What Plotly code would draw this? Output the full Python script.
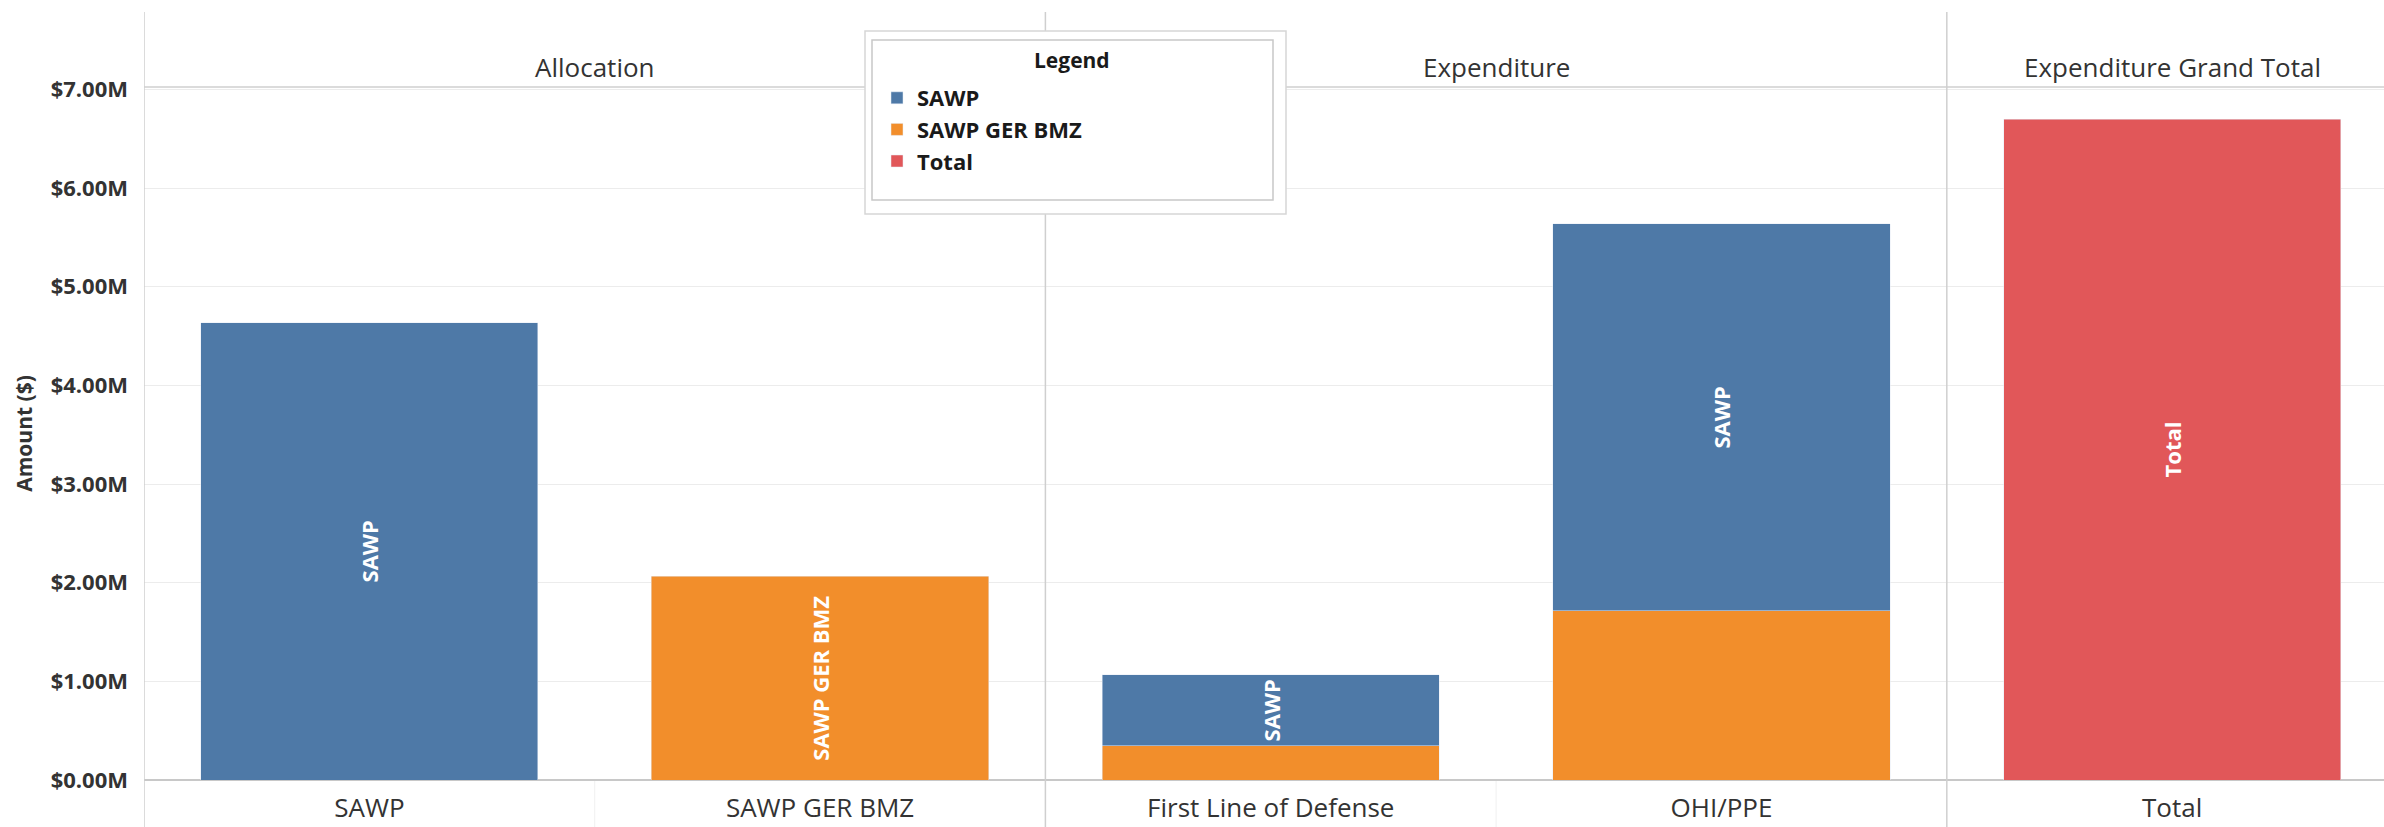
import plotly.graph_objects as go

categories = ["SAWP", "SAWP GER BMZ", "First Line of Defense", "OHI/PPE", "Total"]
sawp_values = [4.637e6, None, 0.716e6, 3.921e6, None]
sawp_labels = ["SAWP", "", "SAWP", "SAWP", ""]
gerbmz_values = [None, 2.064e6, 0.349e6, 1.716e6, None]
gerbmz_labels = ["", "SAWP GER BMZ", "", "", ""]
total_values = [None, None, None, None, 6.70e6]
total_labels = ["", "", "", "", "Total"]
panel_names = ["Allocation", "Expenditure", "Expenditure Grand Total"]
panel_centers = [0.5, 2.5, 4.0]
tick_vals = [0, 1e6, 2e6, 3e6, 4e6, 5e6, 6e6, 7e6]
tick_text = ["$0.00M", "$1.00M", "$2.00M", "$3.00M", "$4.00M", "$5.00M", "$6.00M", "$7.00M"]

BLUE = "#4e79a7"
ORANGE = "#f28e2b"
RED = "#e15759"
FONT = "Open Sans"

W, H = 2384, 827
ML, MR, MT, MB = 144, 0, 87, 47
PH = H - MT - MB

def py(px):
    return (H - MB - px) / PH

def px_x(px):
    return (px - ML) / (W - ML - MR)

bar_text_font = dict(family=FONT, size=22, color="white", weight="bold")

fig = go.Figure()
fig.add_trace(go.Bar(
    x=categories, y=gerbmz_values, name="SAWP GER BMZ", marker_color=ORANGE,
    text=gerbmz_labels, texttemplate="%{text}", textposition="inside",
    insidetextanchor="middle", textangle=-90, insidetextfont=bar_text_font,
    constraintext="none", legendrank=2, legendgroup="g2", hoverinfo="skip",
))
fig.add_trace(go.Bar(
    x=categories, y=sawp_values, name="SAWP", marker_color=BLUE,
    text=sawp_labels, texttemplate="%{text}", textposition="inside",
    insidetextanchor="middle", textangle=-90, insidetextfont=bar_text_font,
    constraintext="none", legendrank=1, legendgroup="g1", hoverinfo="skip",
))
fig.add_trace(go.Bar(
    x=categories, y=total_values, name="Total", marker_color=RED,
    text=total_labels, texttemplate="%{text}", textposition="inside",
    insidetextanchor="middle", textangle=-90, insidetextfont=bar_text_font,
    constraintext="none", legendrank=3, legendgroup="g3", hoverinfo="skip",
))

shapes = []
line_col = "#cfcfcf"
shapes.append(dict(type="line", xref="paper", yref="paper", x0=0, x1=1, y0=1, y1=1,
                   line=dict(color=line_col, width=1.5), layer="above"))
for xv in [-0.5, 1.5, 3.5]:
    shapes.append(dict(type="line", xref="x", yref="paper", x0=xv, x1=xv,
                       y0=py(H), y1=py(12), line=dict(color=line_col, width=1.5), layer="above"))
for xv in [0.5, 2.5]:
    shapes.append(dict(type="line", xref="x", yref="paper", x0=xv, x1=xv,
                       y0=py(H), y1=0, line=dict(color="#f0f0f0", width=1), layer="below"))
shapes.append(dict(type="rect", xref="paper", yref="paper",
                   x0=px_x(865), x1=px_x(1286), y0=py(214), y1=py(31),
                   line=dict(color="#d6d6d6", width=1.5), fillcolor="white", layer="above"))
shapes.append(dict(type="rect", xref="paper", yref="paper",
                   x0=px_x(872), x1=px_x(1273), y0=py(200), y1=py(40),
                   line=dict(color="#c8c8c8", width=1.5), fillcolor="white", layer="above"))

annotations = []
for name, cx in zip(panel_names, panel_centers):
    annotations.append(dict(x=cx, xref="x", y=py(67), yref="paper", text=name,
                            showarrow=False, xanchor="center", yanchor="middle",
                            font=dict(family=FONT, size=26, color="#333333")))
annotations.append(dict(x=px_x(1072), xref="paper", y=py(60), yref="paper",
                        text="<b>Legend</b>", showarrow=False, xanchor="center",
                        yanchor="middle", font=dict(family=FONT, size=21, color="#1a1a1a")))

fig.update_layout(
    width=W, height=H,
    margin=dict(l=ML, r=MR, t=MT, b=MB, autoexpand=False),
    paper_bgcolor="white", plot_bgcolor="white",
    barmode="stack", bargap=0.252,
    font=dict(family=FONT, color="#333333"),
    shapes=shapes, annotations=annotations,
    showlegend=True,
    legend=dict(
        x=px_x(877), y=py(77), xanchor="left", yanchor="top",
        bgcolor="rgba(0,0,0,0)", borderwidth=0,
        font=dict(family=FONT, size=22, color="#1a1a1a", weight="bold"),
        traceorder="normal", tracegroupgap=18,
    ),
    xaxis=dict(
        type="category", categoryorder="array", categoryarray=categories,
        range=[-0.5, 4.47], showgrid=False, showline=False, ticks="",
        ticklabelstandoff=10,
        tickfont=dict(family=FONT, size=26, color="#333333"), fixedrange=True,
    ),
    yaxis=dict(
        range=[0, 7.025e6], tickvals=tick_vals, ticktext=tick_text,
        showgrid=True, gridcolor="#ececec", gridwidth=1,
        zeroline=True, zerolinecolor="#c8c8c8", zerolinewidth=1.5,
        showline=False, ticks="", ticklabelstandoff=15,
        tickfont=dict(family=FONT, size=22, color="#333333", weight="bold"),
        title=dict(text="<b>Amount ($)</b>", standoff=12,
                   font=dict(family=FONT, size=21, color="#333333")),
        automargin=False, fixedrange=True,
    ),
)

fig.write_html("out.html", config={"displayModeBar": False},
               post_script="document.body.style.margin='0px';")
